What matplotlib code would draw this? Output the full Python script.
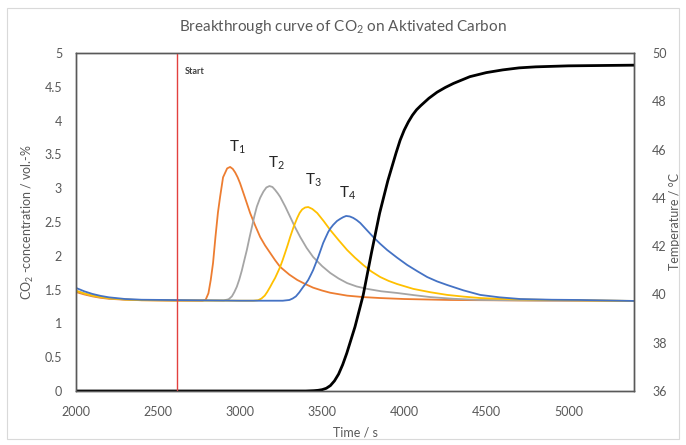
import matplotlib
matplotlib.use("Agg")
import matplotlib.pyplot as plt
from matplotlib.ticker import FuncFormatter, MultipleLocator
from matplotlib.patches import Rectangle

plt.rcParams['font.family'] = ['Lato', 'DejaVu Sans']
plt.rcParams['mathtext.fontset'] = 'custom'
plt.rcParams['mathtext.rm'] = 'Lato'
plt.rcParams['mathtext.it'] = 'Lato'

# ---- data ----
co2_time = [2000, 2500, 3000, 3300, 3400, 3450, 3475, 3500, 3525, 3550, 3575, 3600, 3625, 3650,
            3700, 3750, 3800, 3850, 3900, 3950, 3975, 4000, 4025, 4050, 4075, 4100, 4150, 4200,
            4250, 4300, 4400, 4500, 4600, 4700, 4800, 5000, 5200, 5400]
co2_conc = [0.0, 0.0, 0.0, 0.0, 0.0, 0.005, 0.01, 0.02, 0.04, 0.08, 0.15, 0.25, 0.39, 0.56,
            0.95, 1.42, 2.04, 2.63, 3.11, 3.52, 3.71, 3.86, 3.98, 4.08, 4.16, 4.22, 4.33, 4.42,
            4.49, 4.55, 4.65, 4.71, 4.75, 4.78, 4.795, 4.81, 4.815, 4.82]

t1_time = [2000, 2050, 2100, 2150, 2200, 2300, 2400, 2600, 2770, 2790, 2807, 2821, 2835, 2850,
           2865, 2878, 2896, 2921, 2939, 2955, 2970, 2985, 3000, 3030, 3061, 3092, 3122, 3152,
           3183, 3213, 3244, 3300, 3348, 3400, 3445, 3500, 3549, 3652, 3750, 3854, 4000, 4280,
           4700, 5400]
t1_temp = [40.10, 40.00, 39.92, 39.86, 39.82, 39.78, 39.76, 39.74, 39.74, 39.78, 40.05, 40.60,
           41.30, 42.40, 43.40, 44.04, 44.85, 45.22, 45.28, 45.20, 45.05, 44.85, 44.60, 44.00,
           43.37, 42.85, 42.38, 42.03, 41.72, 41.42, 41.14, 40.82, 40.60, 40.42, 40.28, 40.16,
           40.07, 39.95, 39.89, 39.85, 39.81, 39.77, 39.75, 39.73]

t2_time = [2000, 2050, 2100, 2150, 2200, 2300, 2400, 2600, 2900, 2930, 2950, 2965, 2980, 2995,
           3010, 3025, 3041, 3056, 3072, 3087, 3102, 3122, 3142, 3160, 3179, 3197, 3213, 3230,
           3244, 3275, 3305, 3335, 3366, 3405, 3445, 3500, 3549, 3600, 3652, 3710, 3774, 3860,
           3957, 4060, 4159, 4300, 4463, 4800, 5400]
t2_temp = [40.15, 40.04, 39.95, 39.89, 39.84, 39.79, 39.77, 39.75, 39.75, 39.80, 39.92, 40.10,
           40.32, 40.62, 40.98, 41.40, 41.84, 42.32, 42.80, 43.25, 43.64, 44.00, 44.26, 44.43,
           44.49, 44.45, 44.33, 44.18, 44.04, 43.64, 43.21, 42.78, 42.38, 41.93, 41.55, 41.17,
           40.89, 40.66, 40.47, 40.33, 40.23, 40.13, 40.06, 39.97, 39.89, 39.82, 39.77, 39.75,
           39.73]

t3_time = [2000, 2050, 2100, 2150, 2200, 2300, 2400, 3000, 3080, 3110, 3130, 3150, 3165, 3183,
           3198, 3213, 3228, 3244, 3259, 3274, 3290, 3305, 3326, 3348, 3363, 3378, 3396, 3415,
           3440, 3470, 3510, 3549, 3600, 3652, 3700, 3750, 3800, 3854, 3905, 3957, 4055, 4160,
           4262, 4360, 4463, 4650, 4890, 5400]
t3_temp = [40.15, 40.04, 39.95, 39.89, 39.84, 39.79, 39.76, 39.74, 39.74, 39.76, 39.83, 39.95,
           40.10, 40.31, 40.50, 40.68, 40.90, 41.14, 41.42, 41.72, 42.05, 42.38, 42.80, 43.17,
           43.38, 43.52, 43.60, 43.62, 43.54, 43.37, 43.03, 42.67, 42.25, 41.84, 41.52, 41.22,
           40.95, 40.72, 40.56, 40.43, 40.23, 40.09, 39.98, 39.91, 39.85, 39.80, 39.77, 39.73]

t4_time = [2000, 2050, 2100, 2150, 2200, 2300, 2400, 3000, 3260, 3300, 3320, 3340, 3360, 3384,
           3400, 3415, 3430, 3445, 3460, 3476, 3491, 3506, 3522, 3537, 3552, 3567, 3590, 3610,
           3628, 3646, 3668, 3689, 3710, 3732, 3770, 3811, 3853, 3896, 3957, 4018, 4080, 4140,
           4200, 4262, 4360, 4463, 4580, 4707, 4900, 5073, 5400]
t4_temp = [40.27, 40.13, 40.02, 39.94, 39.88, 39.81, 39.78, 39.74, 39.74, 39.77, 39.83, 39.92,
           40.08, 40.31, 40.45, 40.60, 40.80, 41.01, 41.27, 41.55, 41.84, 42.13, 42.37, 42.59,
           42.75, 42.88, 43.04, 43.13, 43.20, 43.25, 43.23, 43.17, 43.08, 42.96, 42.68, 42.38,
           42.10, 41.84, 41.52, 41.22, 40.96, 40.72, 40.54, 40.39, 40.17, 39.98, 39.88, 39.81,
           39.78, 39.77, 39.73]

start_time = 2616
label_text = ['T$_1$', 'T$_2$', 'T$_3$', 'T$_4$']
label_time = [2982, 3220, 3445, 3652]
label_conc = [3.61, 3.37, 3.12, 2.93]

# ---- figure ----
W, H = 686, 445
fig = plt.figure(figsize=(W / 100, H / 100), dpi=100)
fig.patches.append(Rectangle((7 / W, 6 / H), 1 - 14 / W, 1 - 14 / H, transform=fig.transFigure,
                             fill=False, edgecolor='#d9d9d9', linewidth=0.8))

ax1 = fig.add_axes([76 / W, 1 - 391 / H, (634 - 76) / W, (391 - 53) / H])
ax2 = ax1.twinx()
ax1.set_zorder(ax2.get_zorder() + 1)
ax1.patch.set_visible(False)

txt = '#595959'
ax2.plot(t1_time, t1_temp, color='#ED7D31', lw=1.3)
ax2.plot(t2_time, t2_temp, color='#A5A5A5', lw=1.3)
ax2.plot(t3_time, t3_temp, color='#FFC000', lw=1.3)
ax2.plot(t4_time, t4_temp, color='#4472C4', lw=1.3)

ax1.plot(co2_time, co2_conc, color='black', lw=2.0, solid_capstyle='round',
         solid_joinstyle='round')
ax1.axvline(start_time, color='#E3413F', lw=1.0)
ax1.text(start_time + 45, 4.72, 'Start', fontsize=6.5, color='#404040', fontweight='bold',
         ha='left', va='center')

for s, tx, ty in zip(label_text, label_time, label_conc):
    ax1.text(tx, ty, s, fontsize=11, color='#262626', ha='center', va='center')

ax1.set_xlim(2000, 5400)
ax1.set_ylim(0, 5)
ax2.set_ylim(36, 50)
ax1.xaxis.set_major_locator(MultipleLocator(500))
ax1.yaxis.set_major_locator(MultipleLocator(0.5))
ax2.yaxis.set_major_locator(MultipleLocator(2))
ax1.yaxis.set_major_formatter(FuncFormatter(lambda v, p: f'{v:g}'))

for ax in (ax1, ax2):
    ax.tick_params(length=0, labelsize=9, colors=txt)
    for sp in ax.spines.values():
        sp.set_color('#595959')
        sp.set_linewidth(1.0)
ax1.tick_params(axis='x', pad=11)
ax1.tick_params(axis='y', pad=10)
ax2.tick_params(axis='y', pad=13)

ax1.set_xlabel('Time / s', fontsize=9, color=txt, labelpad=6)
ax1.set_ylabel(r'CO$_2$ -concentration / vol.-%', fontsize=9, color=txt, labelpad=6)
ax2.set_ylabel('Temperature / °C', fontsize=9, color=txt)
ax2.yaxis.set_label_coords((669 - 76) / (634 - 76), 0.5)

fig.text(0.5, 1 - 27 / H, r'Breakthrough curve of CO$_2$ on Aktivated Carbon', ha='center',
         va='center', fontsize=11, color=txt)

fig.savefig('out.png', dpi=100)
